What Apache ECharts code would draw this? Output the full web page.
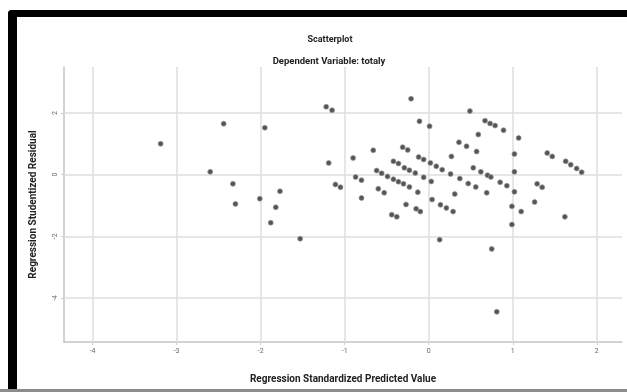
<!DOCTYPE html>
<html>
<head>
<meta charset="utf-8">
<script src="https://cdn.jsdelivr.net/npm/echarts@6/dist/echarts.min.js"></script>
<style>
html,body{margin:0;padding:0;background:#fff;}
#c{width:627px;height:392px;}
</style>
</head>
<body>
<div id="c"></div>
<script>
// Regression standardized predicted value (x) and studentized residual (y)
const predicted = [
  -3.19, -2.44, -1.95, -1.22, -1.15, -2.60, -2.33, -2.30, -2.01, -1.77,
  -1.82, -1.88, -1.53, -1.19, -1.11, -1.05, -0.90, -0.66, -0.87, -0.80,
  -0.80, -0.60, -0.53,
  -0.62, -0.56, -0.49, -0.42, -0.36, -0.30,
  -0.21, -0.11, 0.01, 0.49, 0.67, 0.73, 0.79, 0.89, 1.07, 0.59,
  0.36, 0.45, -0.31, -0.25, -0.12, -0.06, 0.27, 0.57, 1.02,
  1.41, 1.47, 1.63, 1.69, 1.76, 1.82,
  0.02, 0.09, 0.16, -0.42, -0.36, -0.29, -0.23, -0.16,
  -0.06, 0.03, 0.26, 0.37, 0.53, 0.62, 0.70, 0.74, 0.85, 0.93, 1.02,
  0.47, 0.56, 0.69, 0.31, -0.23, -0.13, 0.04, 0.14, 0.21, 0.29,
  -0.27, -0.15, -0.10, -0.44, -0.38, 0.13, 0.75, 0.99, 1.10, 0.99,
  1.02, 1.26, 1.29, 1.35, 1.62, 0.81
];
const residual = [
  1.00, 1.65, 1.52, 2.20, 2.09, 0.09, -0.30, -0.95, -0.78, -0.54,
  -1.06, -1.56, -2.08, 0.38, -0.32, -0.41, 0.54, 0.79, -0.08, -0.18,
  -0.76, -0.46, -0.59,
  0.13, 0.04, -0.06, -0.15, -0.23, -0.30,
  2.46, 1.73, 1.57, 2.06, 1.75, 1.66, 1.59, 1.44, 1.19, 1.30,
  1.05, 0.92, 0.89, 0.80, 0.57, 0.49, 0.59, 0.75, 0.67,
  0.70, 0.59, 0.43, 0.32, 0.20, 0.08,
  0.38, 0.27, 0.16, 0.43, 0.36, 0.22, 0.14, 0.05,
  -0.09, -0.22, 0.02, -0.13, 0.22, 0.09, -0.02, -0.08, -0.25, -0.36, 0.09,
  -0.29, -0.40, -0.59, -0.63, -0.40, -0.57, -0.81, -0.98, -1.08, -1.20,
  -0.97, -1.11, -1.20, -1.30, -1.37, -2.11, -2.41, -1.03, -1.20, -1.62,
  -0.56, -0.89, -0.30, -0.41, -1.37, -4.45
];
const xTicks = [-4, -3, -2, -1, 0, 1, 2];
const yTicks = [2, 0, -2, -4];
const titleText = 'Scatterplot';
const subtitleText = 'Dependent Variable: totaly';
const xName = 'Regression Standardized Predicted Value';
const yName = 'Regression Studentized Residual';

const points = predicted.map((v, i) => [v, residual[i]]);
const chart = echarts.init(document.getElementById('c'));
const gridColor = '#dedede';
chart.setOption({
  animation: false,
  backgroundColor: '#fff',
  title: [
    {text: titleText, left: 325, top: 30, textAlign: 'center',
     textStyle: {fontFamily: 'Roboto', fontSize: 9, fontWeight: 'bold', color: '#222'}},
    {text: subtitleText, left: 324, top: 52, textAlign: 'center',
     textStyle: {fontFamily: 'Roboto', fontSize: 9.5, fontWeight: 'bold', color: '#222'}}
  ],
  grid: {left: 64, right: 5, top: 67, bottom: 50},
  xAxis: {
    type: 'value', min: -4.34, max: 2.30,
    name: xName, nameLocation: 'middle', nameGap: 32,
    nameTextStyle: {fontFamily: 'Roboto', fontSize: 10, fontWeight: 'bold', color: '#222'},
    axisLine: {show: true, onZero: false, lineStyle: {color: '#c4c4c4', width: 1.5}},
    axisTick: {show: true, length: 3, customValues: xTicks, lineStyle: {color: '#ccc'}},
    axisLabel: {customValues: xTicks, fontSize: 7, color: '#666', margin: 6, fontFamily: 'Roboto'},
    splitLine: {show: false}
  },
  yAxis: {
    type: 'value', min: -5.43, max: 3.49,
    name: yName, nameLocation: 'middle', nameGap: 26,
    nameTextStyle: {fontFamily: 'Roboto', fontSize: 10, fontWeight: 'bold', color: '#222'},
    axisLine: {show: true, onZero: false, lineStyle: {color: '#c4c4c4', width: 1.5}},
    axisTick: {show: true, length: 3, customValues: yTicks, lineStyle: {color: '#ccc'}},
    axisLabel: {customValues: yTicks, fontSize: 7, color: '#666', margin: 5, rotate: 90, fontFamily: 'Roboto'},
    splitLine: {show: false}
  },
  series: [{
    type: 'scatter',
    data: points,
    symbolSize: 5,
    itemStyle: {color: '#555', borderColor: '#999', borderWidth: 0.7, opacity: 1},
    markLine: {
      silent: true, symbol: 'none', label: {show: false},
      lineStyle: {color: gridColor, width: 1.5, type: 'solid'},
      data: xTicks.map(v => ({xAxis: v})).concat(yTicks.map(v => ({yAxis: v})))
    },
    z: 5
  }],
  graphic: [
    {type: 'rect', shape: {x: 8, y: 10, width: 640, height: 7, r: [4, 0, 0, 0]}, style: {fill: '#000'}, z: 100},
    {type: 'rect', shape: {x: 8, y: 10, width: 9, height: 390, r: [4, 0, 0, 0]}, style: {fill: '#000'}, z: 100},
    {type: 'rect', shape: {x: 0, y: 389, width: 627, height: 3}, style: {fill: '#8c8c8c'}, z: 100}
  ]
});
</script>
</body>
</html>
